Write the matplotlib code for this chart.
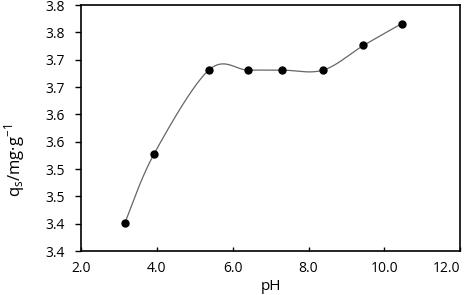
import numpy as np
import matplotlib
matplotlib.use("Agg")
import matplotlib.pyplot as plt

# datos
ph = [3.16, 3.93, 5.37, 6.40, 7.30, 8.39, 9.45, 10.46]
qs = [3.402, 3.528, 3.681, 3.681, 3.681, 3.681, 3.726, 3.766]
y_ticks = [3.35, 3.40, 3.45, 3.50, 3.55, 3.60, 3.65, 3.70, 3.75, 3.80]
y_labels = ["3.4", "3.4", "3.5", "3.5", "3.6", "3.6", "3.7", "3.7", "3.8", "3.8"]
x_ticks = [2.0, 4.0, 6.0, 8.0, 10.0, 12.0]


def suavizar(x, y, n=40):
    # curva suavizada tipo Excel (Bezier cubica)
    x = np.asarray(x, float)
    y = np.asarray(y, float)
    xs, ys = [], []
    for i in range(len(x) - 1):
        p0 = np.array([x[max(i - 1, 0)], y[max(i - 1, 0)]])
        p1 = np.array([x[i], y[i]])
        p2 = np.array([x[i + 1], y[i + 1]])
        p3 = np.array([x[min(i + 2, len(x) - 1)], y[min(i + 2, len(x) - 1)]])
        c1 = p1 + (p2 - p0) / 6
        c2 = p2 - (p3 - p1) / 6
        t = np.linspace(0, 1, n)[:, None]
        b = ((1 - t) ** 3) * p1 + 3 * ((1 - t) ** 2) * t * c1 + 3 * (1 - t) * t ** 2 * c2 + t ** 3 * p2
        xs.extend(b[:, 0])
        ys.extend(b[:, 1])
    return xs, ys


plt.rcParams["font.family"] = ["Open Sans", "DejaVu Sans"]

fig = plt.figure(figsize=(4.71, 2.95), dpi=100)
ax = fig.add_axes([0.172, 0.149, 0.805, 0.834])

sx, sy = suavizar(ph, qs)
ax.plot(sx, sy, color="#666666", lw=0.9, zorder=2)
ax.plot(ph, qs, "o", color="black", ms=5, zorder=3)

ax.set_xlim(2.0, 12.0)
ax.set_ylim(3.35, 3.80)
ax.set_xticks(x_ticks)
ax.set_xticklabels([f"{v:.1f}" for v in x_ticks])
ax.set_yticks(y_ticks)
ax.set_yticklabels(y_labels)

ax.tick_params(axis="x", direction="in", length=3, width=1, labelsize=10, pad=7)
ax.tick_params(axis="y", direction="out", length=4, width=1, labelsize=10, pad=7.5)
# la ultima etiqueta se mete dentro de la figura, como en Excel
ax.get_xticklabels()[-1].set_horizontalalignment("right")
for s in ax.spines.values():
    s.set_linewidth(1.2)

ax.set_xlabel("pH", fontsize=11, labelpad=2)
ax.set_ylabel(r"q$_\mathregular{s}$/mg·g$^\mathregular{-1}$", fontsize=12)
ax.yaxis.set_label_coords(-0.142, 0.37)

fig.savefig("out.png", dpi=100)
